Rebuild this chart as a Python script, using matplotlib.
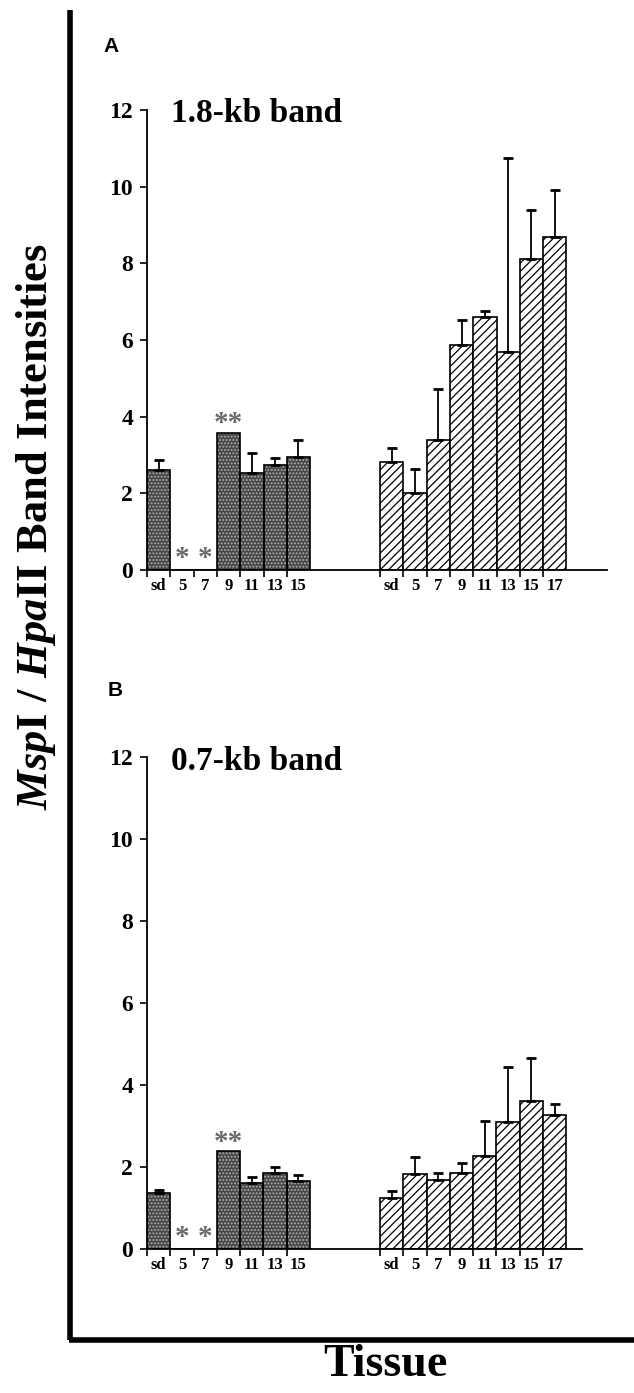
import numpy as np
import matplotlib
matplotlib.use("Agg")
import matplotlib.pyplot as plt
from matplotlib.lines import Line2D

# ---------------- data ----------------
ages_left = ["sd", "5", "7", "9", "11", "13", "15"]
ages_right = ["sd", "5", "7", "9", "11", "13", "15", "17"]

a_left = [2.60, 0.0, 0.0, 3.58, 2.53, 2.74, 2.96]
a_left_err = [0.28, 0.0, 0.0, 0.0, 0.52, 0.17, 0.42]
a_right = [2.82, 2.02, 3.38, 5.88, 6.60, 5.70, 8.12, 8.70]
a_right_err = [0.35, 0.62, 1.35, 0.65, 0.15, 5.05, 1.28, 1.22]

b_left = [1.37, 0.0, 0.0, 2.40, 1.61, 1.85, 1.65]
b_left_err = [0.06, 0.0, 0.0, 0.0, 0.14, 0.14, 0.16]
b_right = [1.24, 1.83, 1.69, 1.86, 2.28, 3.09, 3.61, 3.27]
b_right_err = [0.17, 0.41, 0.16, 0.23, 0.84, 1.35, 1.04, 0.27]

single_star_idx = [1, 2]   # bars marked "*"
double_star_idx = [3]      # bar marked "**"
y_ticks = [0, 2, 4, 6, 8, 10, 12]

# ---------------- figure ----------------
W, H = 634, 1393
DPI = 100
fig = plt.figure(figsize=(W / DPI, H / DPI), dpi=DPI)
fig.patch.set_facecolor("white")

plt.rcParams['mathtext.fontset'] = 'custom'
plt.rcParams['mathtext.rm'] = 'Liberation Serif:bold'
plt.rcParams['mathtext.it'] = 'Liberation Serif:italic:bold'
plt.rcParams['mathtext.bf'] = 'Liberation Serif:bold'
plt.rcParams['hatch.linewidth'] = 0.9

SERIF = "Liberation Serif"
SANS = "Liberation Sans"

def px_axes(x0, y_top, x1, y_bot):
    return fig.add_axes([x0 / W, 1 - y_bot / H, (x1 - x0) / W, (y_bot - y_top) / H])

RIGHT_START = 10

def draw_panel(ax, left, left_err, right, right_err, xmax, title):
    xl = np.arange(len(left))
    xr = RIGHT_START + np.arange(len(right))
    # stippled dark bars: fill with light dots, then black outline
    ax.bar(xl, left, width=1.0, align='edge', color='#474747',
           edgecolor='#b0b0b0', hatch='.....', linewidth=0, zorder=2)
    ax.bar(xl, left, width=1.0, align='edge', fill=False,
           edgecolor='black', linewidth=1.2, zorder=3)
    # hatched bars
    ax.bar(xr, right, width=1.0, align='edge', color='white',
           edgecolor='black', hatch='////', linewidth=1.2, zorder=2)
    # error bars (upper only)
    le = np.array(left_err)
    mask = le > 0
    ax.errorbar(xl[mask] + 0.5, np.array(left)[mask],
                yerr=[np.zeros(mask.sum()), le[mask]],
                fmt='none', ecolor='black', elinewidth=1.3, capsize=3.5,
                capthick=2.0, zorder=4)
    re = np.array(right_err)
    ax.errorbar(xr + 0.5, right, yerr=[np.zeros(len(re)), re],
                fmt='none', ecolor='black', elinewidth=1.3, capsize=3.5,
                capthick=2.0, zorder=4)
    # asterisks
    for i in single_star_idx:
        ax.text(i + 0.5, -0.05, "*", ha='center', va='bottom', fontsize=21,
                color='#6a6a6a', family=SERIF, fontweight='bold')
    for i in double_star_idx:
        ax.text(i + 0.5, left[i] - 0.12, "**", ha='center', va='bottom',
                fontsize=21, color='#6a6a6a', family=SERIF, fontweight='bold')

    ax.set_xlim(0, xmax)
    ax.set_ylim(0, 12)
    ax.set_yticks(y_ticks)
    ax.set_yticklabels([str(t) for t in y_ticks], family=SERIF,
                       fontweight='bold', fontsize=17)
    ax.tick_params(axis='y', direction='out', length=5, width=1.2, pad=5)
    ticks = list(xl) + list(xr)
    ax.set_xticks(ticks)
    ax.set_xticklabels([])
    ax.tick_params(axis='x', direction='out', length=5, width=1.2)
    for s in ['top', 'right']:
        ax.spines[s].set_visible(False)
    ax.spines['left'].set_linewidth(1.3)
    ax.spines['bottom'].set_linewidth(1.3)
    # category labels centred under the bars
    labs = ages_left + ages_right
    centers = list(xl + 0.5) + list(xr + 0.5)
    for c, lab in zip(centers, labs):
        ax.text(c, -0.2, lab, transform=ax.transData, ha='center', va='top',
                family=SERIF, fontweight='bold', fontsize=12, clip_on=False)
    ax.text(1.05, 11.9, title, ha='left', va='center', family=SERIF,
            fontweight='bold', fontsize=24)

# panel A
axA = px_axes(147, 110, 607, 570)
draw_panel(axA, a_left, a_left_err, a_right, a_right_err, 19.74, "1.8-kb band")
# panel B
axB = px_axes(147, 757, 582, 1249)
draw_panel(axB, b_left, b_left_err, b_right, b_right_err, 18.67, "0.7-kb band")

# panel letters
fig.text(103 / W, 1 - 46 / H, "A", family=SANS, fontweight='bold',
         fontsize=15, ha='left', va='center')
fig.text(108 / W, 1 - 690 / H, "B", family=SANS, fontweight='bold',
         fontsize=15, ha='left', va='center')

# outer frame (thick L)
fig.add_artist(Line2D([70 / W, 70 / W], [1 - 10 / H, 1 - 1340 / H],
                      color='black', linewidth=4, solid_capstyle='butt',
                      transform=fig.transFigure))
fig.add_artist(Line2D([68.5 / W, 1.0], [1 - 1340 / H, 1 - 1340 / H],
                      color='black', linewidth=4, solid_capstyle='butt',
                      transform=fig.transFigure))

# axis titles
fig.text(36 / W, 1 - 527 / H,
         r'$\mathit{Msp}\mathrm{I\ /\ }\mathit{Hpa}\mathrm{II\ Band\ Intensities}$',
         rotation=90, ha='center', va='center', fontsize=32)
fig.text(385 / W, 1 - 1365 / H, "Tissue", family=SERIF, fontweight='bold',
         fontsize=33, ha='center', va='center')

fig.savefig("out.png", dpi=DPI, facecolor='white')
